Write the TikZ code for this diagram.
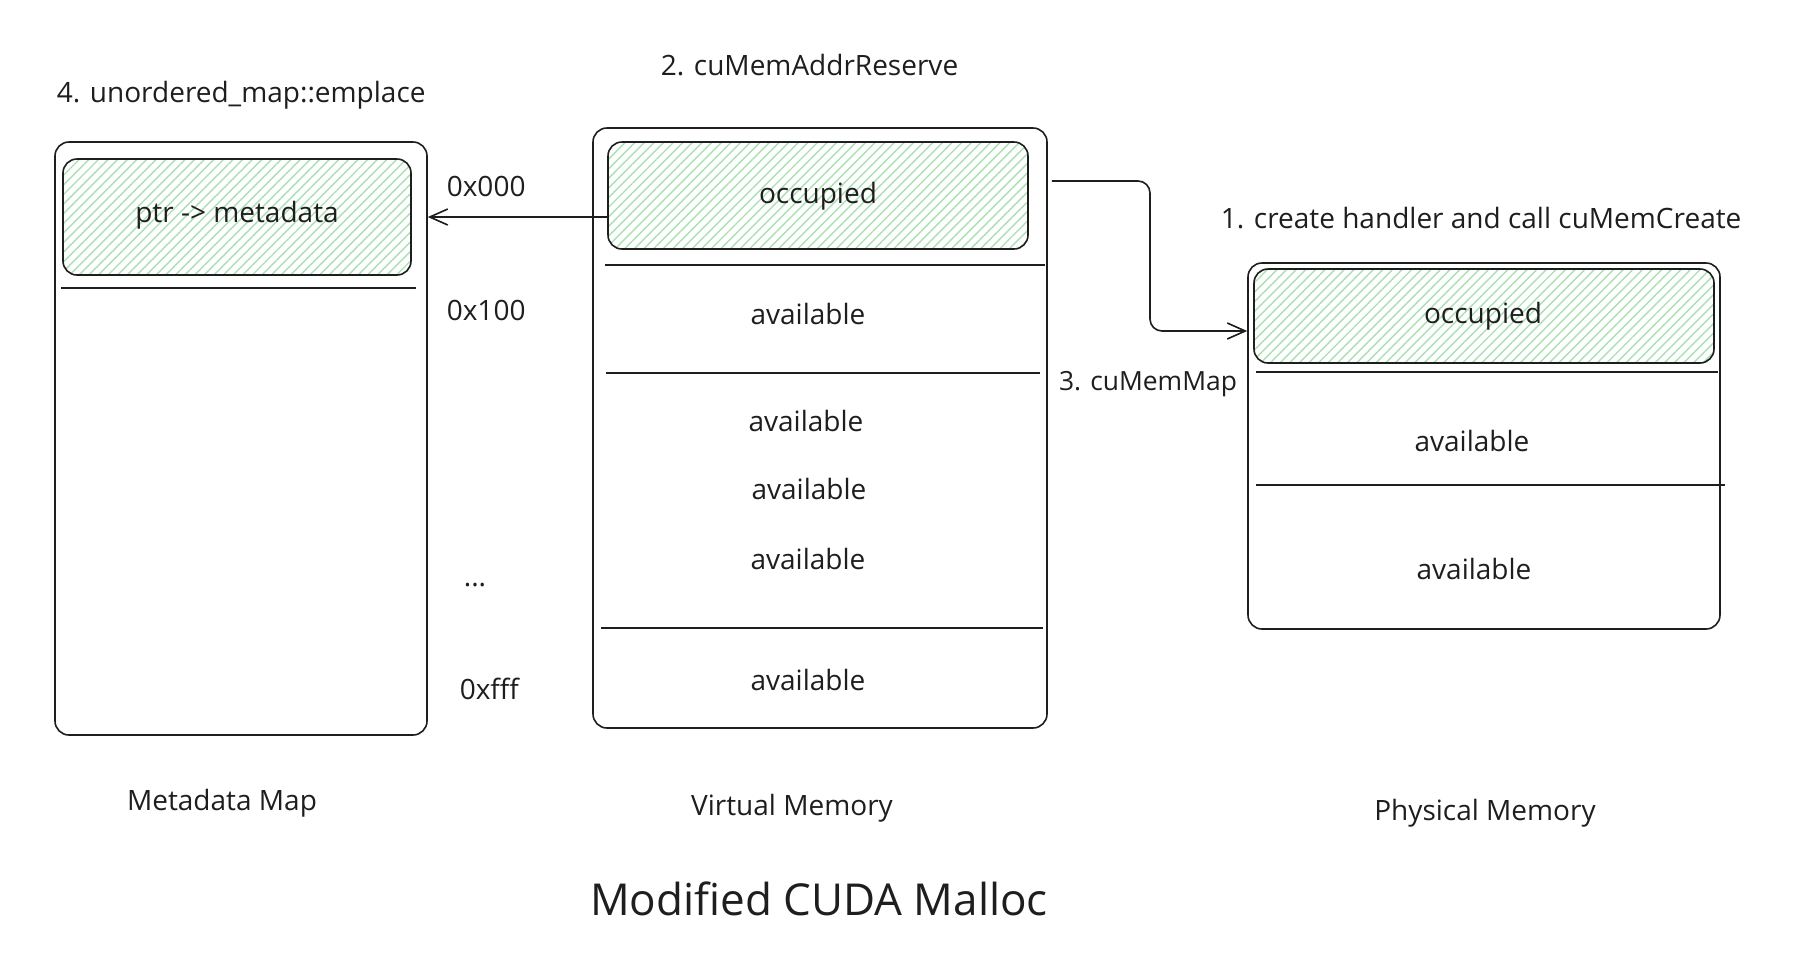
\documentclass[tikz,border=0pt]{standalone}
\usepackage{fontspec}
\setmainfont{Open Sans}
\usetikzlibrary{arrows.meta,patterns.meta,positioning}
\definecolor{hatch}{RGB}{168,224,176}
\definecolor{ink}{RGB}{30,30,30}

\begin{document}
\begin{tikzpicture}[x=0.5pt, y=-0.5pt, line width=0.8pt, draw=ink, >={Straight Barb[length=9pt,width=8pt]},
    membox/.style={draw, rounded corners=7pt, inner sep=0pt},
    used/.style={draw, rounded corners=7pt, inner sep=0pt, font=\fontsize{14}{17}\selectfont,
      pattern={Lines[angle=45,distance=3.4pt,line width=0.7pt]}, pattern color=hatch},
    txt/.style={font=\fontsize{14}{17}\selectfont, inner sep=0pt, text=ink}]
  \useasboundingbox (0,0) rectangle (1816,960);
  % metadata map
  \node[membox, minimum width=186pt, minimum height=296.5pt] (meta) at (241,438.5) {};
  \node[used, minimum width=174pt, minimum height=58pt] (metaocc) at (237,217) {};
  \node[txt] (ptr) at (237,215) {ptr -> metadata};
  \draw (61,288) -- (416,288);
  \node[txt, anchor=west] (step4) at (56,95) {4. unordered\_map::emplace};
  \node[txt] (metalbl) at (222,803) {Metadata Map};
  % addresses
  \node[txt, anchor=west] (a0) at (446,186) {0x000};
  \node[txt, anchor=west] (a1) at (446,310) {0x100};
  \node[txt] (adots) at (475,585) {...};
  \node[txt, anchor=west] (a2) at (459,689) {0xfff};
  % virtual memory
  \node[membox, minimum width=227pt, minimum height=300pt] (vm) at (820,428) {};
  \node[used, minimum width=210pt, minimum height=53.5pt] (vmocc) at (818,195.5) {};
  \node[txt] (vmtxt) at (818,196) {occupied};
  \draw (605,265) -- (1045,265);
  \draw (606,373) -- (1040,373);
  \draw (601,628) -- (1043,628);
  \node[txt] (v1) at (808,314) {available};
  \node[txt] (v2) at (806,421) {available};
  \node[txt] (v3) at (809,489) {available};
  \node[txt] (v4) at (808,559) {available};
  \node[txt] (v5) at (808,680) {available};
  \node[txt, anchor=west] (step2) at (660,65) {2. cuMemAddrReserve};
  \node[txt] (vmlbl) at (792,808) {Virtual Memory};
  % physical memory
  \node[membox, minimum width=236pt, minimum height=183pt] (phys) at (1484,446) {};
  \node[used, minimum width=230pt, minimum height=47pt] (physocc) at (1484,316) {};
  \node[txt] (phystxt) at (1483,316) {occupied};
  \draw (1256,372) -- (1718,372);
  \draw (1256,485) -- (1725,485);
  \node[txt] (p1) at (1472,441) {available};
  \node[txt] (p2) at (1474,569) {available};
  \node[txt, anchor=west] (step1) at (1220,218) {1. create handler and call cuMemCreate};
  \node[txt, font=\fontsize{13.2}{16}\selectfont] (step3) at (1148,384) {3. cuMemMap};
  \node[txt] (physlbl) at (1485,813) {Physical Memory};
  % arrows
  \draw[->] (vmocc.west |- metaocc) -- (meta.east |- metaocc);
  \draw[->, rounded corners=6pt] ([xshift=2pt]vm.east |- 0,181) -| (1150,331) -- (phys.west |- 0,331);
  % title
  \node[txt, font=\fontsize{22}{26}\selectfont] (title) at (819,899) {Modified CUDA Malloc};
\end{tikzpicture}
\end{document}
